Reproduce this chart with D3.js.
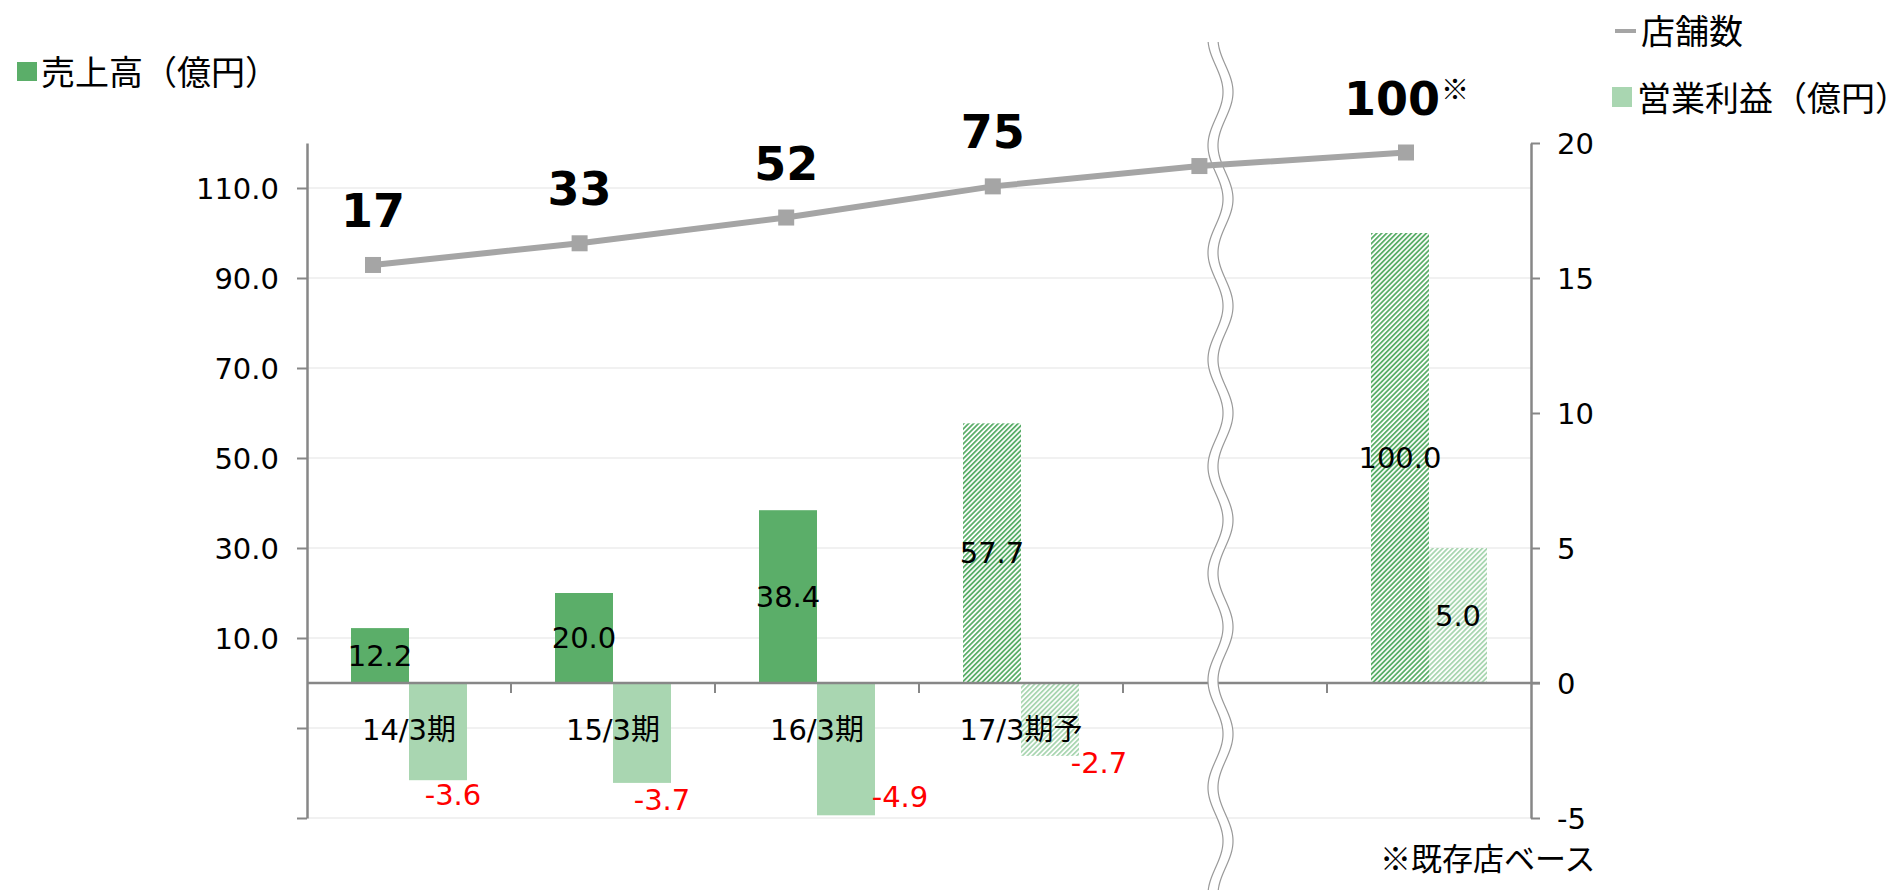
<!DOCTYPE html>
<html>
<head>
<meta charset="utf-8">
<script src="https://cdn.jsdelivr.net/npm/d3@7"></script>
<style>
  html, body { margin: 0; padding: 0; background: #fff; }
  svg { display: block; }
</style>
</head>
<body>
<script>
// ---------- data ----------
const categories = ["14/3期", "15/3期", "16/3期", "17/3期予", "", ""];
const sales = [12.2, 20.0, 38.4, 57.7, null, 100.0];          // 売上高（億円）
const profit = [-3.6, -3.7, -4.9, -2.7, null, 5.0];           // 営業利益（億円）
const isForecast = [false, false, false, true, false, true];
const stores = [17, 33, 52, 75, 90, 100];                      // 店舗数
const storeLabels = ["17", "33", "52", "75", "", "100"];
const storeNoteMark = [false, false, false, false, false, true];
const leftTicks = [110, 90, 70, 50, 30, 10, -10, -30];
const leftTickLabels = ["110.0", "90.0", "70.0", "50.0", "30.0", "10.0", "", ""];
const rightTicks = [20, 15, 10, 5, 0, -5];
const legendSales = "売上高（億円）";
const legendStores = "店舗数";
const legendProfit = "営業利益（億円）";
const footNote = "※既存店ベース";

// ---------- layout ----------
const W = 1897, H = 890;
const plot = { left: 307, right: 1531, top: 143, bottom: 818 };
const numFont = "'DejaVu Sans', 'Noto Sans CJK JP', sans-serif";
const cjkFont = "'Noto Sans CJK JP', 'DejaVu Sans', sans-serif";
const cSales = "#5BAE69", cProfit = "#A9D6B1", cLine = "#A5A5A5", cAxis = "#878787", cGrid = "#EDEDED";
// label nudges for negative profit labels (dx, dy from bar end)
const profitLabelNudge = [[15, 15], [20, 17], [54, -18], [49, 7], [0, 0], [0, 0]];
const fmt1 = v => v.toFixed(1);       // ASCII hyphen for negatives
const fmt0 = v => String(v);

const svg = d3.select("body").append("svg").attr("width", W).attr("height", H);
const defs = svg.append("defs");
function hatch(id, color) {
  const p = defs.append("pattern").attr("id", id).attr("patternUnits", "userSpaceOnUse")
    .attr("width", 3.5).attr("height", 3.5).attr("patternTransform", "rotate(45)");
  p.append("rect").attr("width", 3.5).attr("height", 3.5).attr("fill", "#fff");
  p.append("rect").attr("width", 1.8).attr("height", 3.5).attr("fill", color);
}
hatch("hatchSales", cSales);
hatch("hatchProfit", cProfit);

// scales
const idx = categories.map((d, i) => i);
const x = d3.scaleBand().domain(idx).range([plot.left, plot.right]).paddingInner(0).paddingOuter(0);
const xSub = d3.scaleBand().domain(["sales", "profit"]).range([0, x.bandwidth()]).paddingInner(0).paddingOuter(0.7586);
const yL = d3.scaleLinear().domain([-30, 120]).range([plot.bottom, plot.top]);
const yR = d3.scaleLinear().domain([-5, 20]).range([plot.bottom, plot.top]);
const xLine = d3.scalePoint().domain(idx).range([373, 1406]);
const yLine = d3.scaleLinear().domain([0, 100]).range([288, 152.5]);

// gridlines
svg.append("g").selectAll("line").data(leftTicks).join("line")
  .attr("x1", plot.left).attr("x2", plot.right)
  .attr("y1", d => yL(d)).attr("y2", d => yL(d))
  .attr("stroke", cGrid).attr("stroke-width", 1.5);

// bars
const gBars = svg.append("g");
idx.forEach(i => {
  if (sales[i] != null) {
    gBars.append("rect")
      .attr("x", x(i) + xSub("sales")).attr("width", xSub.bandwidth())
      .attr("y", yL(Math.max(0, sales[i]))).attr("height", Math.abs(yL(sales[i]) - yL(0)))
      .attr("fill", isForecast[i] ? "url(#hatchSales)" : cSales);
  }
  if (profit[i] != null) {
    gBars.append("rect")
      .attr("x", x(i) + xSub("profit")).attr("width", xSub.bandwidth())
      .attr("y", yR(Math.max(0, profit[i]))).attr("height", Math.abs(yR(profit[i]) - yR(0)))
      .attr("fill", isForecast[i] ? "url(#hatchProfit)" : cProfit);
  }
});

// axes
const axL = svg.append("g").attr("transform", `translate(${plot.left},0)`)
  .call(d3.axisLeft(yL).tickValues(leftTicks).tickSize(10).tickSizeOuter(0)
    .tickFormat((d, i) => leftTickLabels[i]));
axL.select(".domain").attr("stroke", cAxis).attr("stroke-width", 2.5);
axL.selectAll(".tick line").attr("stroke", cAxis).attr("stroke-width", 2);
axL.selectAll(".tick text").attr("x", -28).attr("dy", "0.35em")
  .style("font-family", numFont).style("font-size", "29px").attr("fill", "#000");

const axR = svg.append("g").attr("transform", `translate(${plot.right},0)`)
  .call(d3.axisRight(yR).tickValues(rightTicks).tickSize(9).tickSizeOuter(0).tickFormat(fmt0));
axR.select(".domain").attr("stroke", cAxis).attr("stroke-width", 2.5);
axR.selectAll(".tick line").attr("stroke", cAxis).attr("stroke-width", 2);
axR.selectAll(".tick text").attr("x", 26).attr("dy", "0.35em")
  .style("font-family", numFont).style("font-size", "29px").attr("fill", "#000");

// category axis at zero
const gCat = svg.append("g").attr("transform", `translate(0,${yR(0)})`);
gCat.append("line").attr("x1", plot.left).attr("x2", plot.right + 9)
  .attr("stroke", cAxis).attr("stroke-width", 2.5);
gCat.selectAll("line.tk").data(idx.slice(1)).join("line").attr("class", "tk")
  .attr("x1", d => x(d)).attr("x2", d => x(d)).attr("y1", 0).attr("y2", 10)
  .attr("stroke", cAxis).attr("stroke-width", 2);
gCat.selectAll("text").data(idx).join("text")
  .attr("x", d => x(d) + x.bandwidth() / 2).attr("y", 47)
  .attr("text-anchor", "middle").attr("dominant-baseline", "central")
  .style("font-family", numFont).style("font-size", "29px").attr("fill", "#000")
  .text(d => categories[d]);

// bar labels
const gLab = svg.append("g").style("font-family", numFont).style("font-size", "29px");
idx.forEach(i => {
  if (sales[i] != null) {
    gLab.append("text")
      .attr("x", x(i) + xSub("sales") + xSub.bandwidth() / 2)
      .attr("y", (yL(sales[i]) + yL(0)) / 2)
      .attr("text-anchor", "middle").attr("dominant-baseline", "central").attr("fill", "#000")
      .text(fmt1(sales[i]));
  }
  if (profit[i] != null) {
    const cx = x(i) + xSub("profit") + xSub.bandwidth() / 2;
    if (profit[i] < 0) {
      const [dx, dy] = profitLabelNudge[i];
      gLab.append("text").attr("x", cx + dx).attr("y", yR(profit[i]) + dy)
        .attr("text-anchor", "middle").attr("dominant-baseline", "central").attr("fill", "#FF0000")
        .text(fmt1(profit[i]));
    } else {
      gLab.append("text").attr("x", cx).attr("y", (yR(profit[i]) + yR(0)) / 2)
        .attr("text-anchor", "middle").attr("dominant-baseline", "central").attr("fill", "#000")
        .text(fmt1(profit[i]));
    }
  }
});

// axis break (wavy double line)
(function () {
  const y0 = 42, y1 = H, A = 7.5, P = 107, ph = 386.25, cx1 = 1215.5, gap = 10;
  const ys = d3.range(y0, y1 + 1, 1);
  const fx = (y, off) => cx1 + off + A * Math.sin(2 * Math.PI * (y - ph) / P);
  const L = ys.map(y => [fx(y, 0), y]);
  const R = ys.map(y => [fx(y, gap), y]);
  const gen = d3.line();
  svg.append("path").attr("d", gen(L.concat(R.slice().reverse())) + "Z").attr("fill", "#fff");
  svg.append("path").attr("d", gen(L)).attr("fill", "none").attr("stroke", "#9A9A9A").attr("stroke-width", 1.2);
  svg.append("path").attr("d", gen(R)).attr("fill", "none").attr("stroke", "#9A9A9A").attr("stroke-width", 1.2);
})();

// store count line
svg.append("path").datum(idx)
  .attr("d", d3.line().x(i => xLine(i)).y(i => yLine(stores[i])))
  .attr("fill", "none").attr("stroke", cLine).attr("stroke-width", 6);
svg.append("g").selectAll("rect").data(idx).join("rect")
  .attr("x", i => xLine(i) - 8).attr("y", i => yLine(stores[i]) - 8)
  .attr("width", 16).attr("height", 16).attr("fill", cLine);
const gSL = svg.append("g");
idx.forEach(i => {
  if (!storeLabels[i]) return;
  const t = gSL.append("text").attr("x", xLine(i)).attr("y", yLine(stores[i]) - 38)
    .attr("text-anchor", "middle").style("font-family", numFont)
    .style("font-size", "46px").style("font-weight", "bold").attr("fill", "#000")
    .text(storeLabels[i]);
  if (storeNoteMark[i]) {
    const mark = gSL.append("text").attr("y", yLine(stores[i]) - 53)
      .style("font-family", cjkFont).style("font-size", "28px").attr("fill", "#000").text("※");
    const wNum = t.node().getComputedTextLength();
    const wMark = mark.node().getComputedTextLength();
    const left = xLine(i) - (wNum + wMark) / 2;
    t.attr("text-anchor", "start").attr("x", left);
    mark.attr("x", left + wNum + 1);
  }
});

// legends
const gLeg = svg.append("g").style("font-family", cjkFont).style("font-size", "34px").attr("fill", "#000");
gLeg.append("rect").attr("x", 17).attr("y", 62).attr("width", 20).attr("height", 19).attr("fill", cSales);
gLeg.append("text").attr("x", 41).attr("y", 70).attr("dominant-baseline", "central").text(legendSales);
gLeg.append("rect").attr("x", 1615).attr("y", 29).attr("width", 21).attr("height", 4).attr("fill", cLine);
gLeg.append("text").attr("x", 1641).attr("y", 29).attr("dominant-baseline", "central").text(legendStores);
gLeg.append("rect").attr("x", 1612).attr("y", 87).attr("width", 20).attr("height", 20).attr("fill", cProfit);
gLeg.append("text").attr("x", 1637).attr("y", 96).attr("dominant-baseline", "central").text(legendProfit);

// footnote
svg.append("text").attr("x", 1380).attr("y", 856).attr("dominant-baseline", "central")
  .style("font-family", cjkFont).style("font-size", "31px").attr("fill", "#000").text(footNote);
</script>
</body>
</html>
